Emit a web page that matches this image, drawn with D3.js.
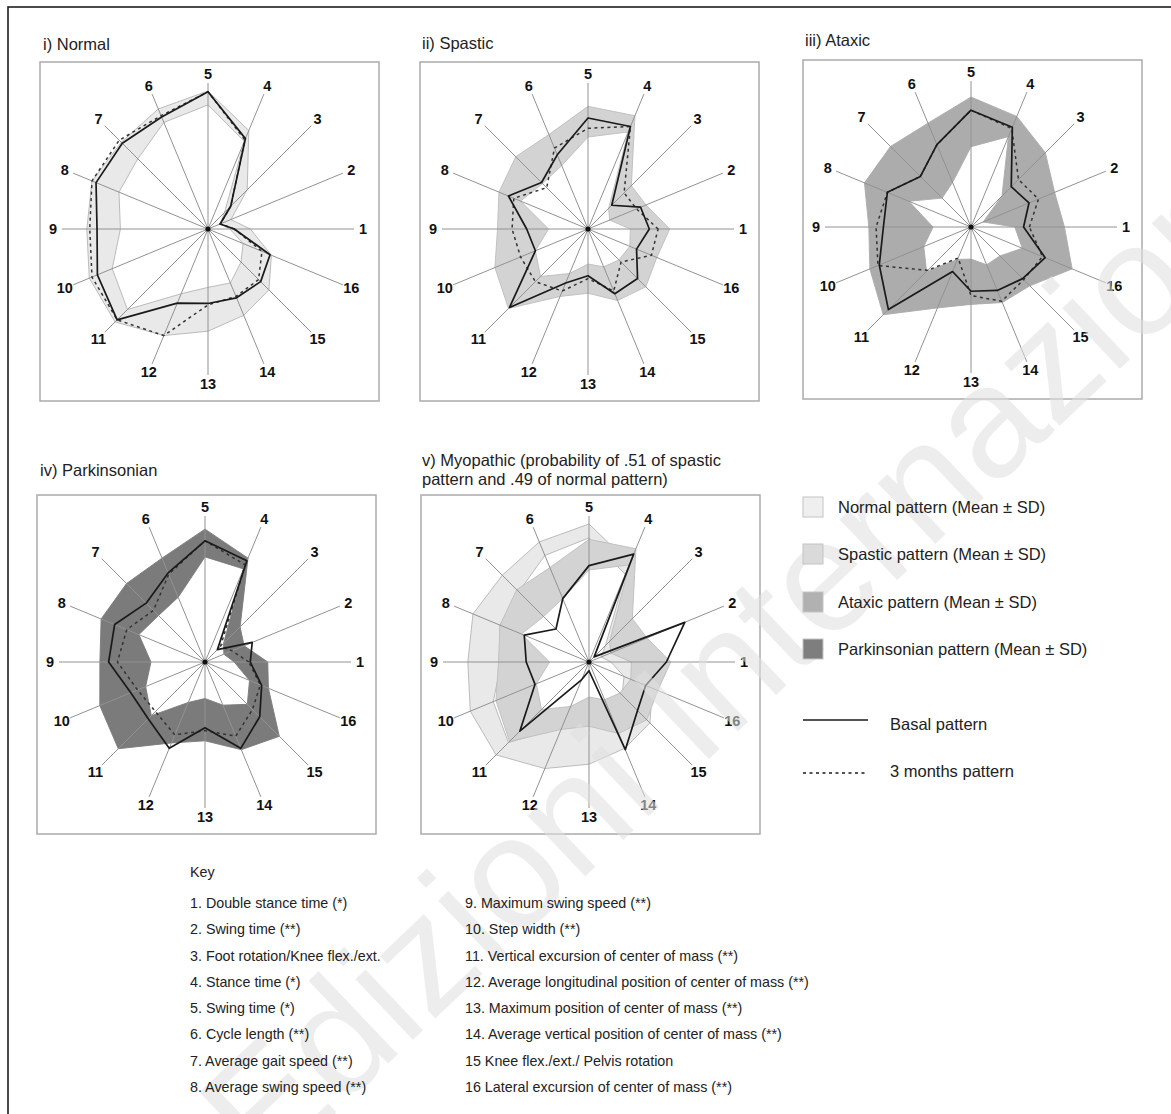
<!DOCTYPE html>
<html>
<head>
<meta charset="utf-8">
<script src="https://cdn.jsdelivr.net/npm/d3@7"></script>
<style>
  body { margin: 0; background: #fff; }
  svg { display: block; font-family: Arial, "Liberation Sans", Helvetica, sans-serif; }
</style>
</head>
<body>
<svg id="fig" width="1171" height="1114"></svg>
<script>
// ---- gait parameters (axes 1..16, counter-clockwise from the right) ----
const axisLabels = ["1","2","3","4","5","6","7","8","9","10","11","12","13","14","15","16"];

// Reference patterns: mean + SD (upper) and mean - SD (lower), normalised radius
const normalUpper   = [0.29,0.17,0.38,0.73,0.945,0.89,0.84,0.86,0.83,0.88,0.90,0.79,0.70,0.64,0.59,0.47];
const normalLower   = [0.15,0.09,0.16,0.65,0.85,0.79,0.68,0.66,0.60,0.71,0.78,0.48,0.40,0.40,0.32,0.26];
const spasticUpper  = [0.56,0.43,0.42,0.84,0.84,0.70,0.70,0.66,0.62,0.69,0.77,0.50,0.44,0.53,0.56,0.51];
const spasticLower  = [0.29,0.16,0.20,0.72,0.63,0.47,0.44,0.50,0.27,0.39,0.46,0.33,0.24,0.28,0.30,0.31];
const ataxicUpper   = [0.64,0.62,0.72,0.82,0.89,0.77,0.78,0.79,0.70,0.75,0.85,0.60,0.53,0.56,0.57,0.75];
const ataxicLower   = [0.30,0.09,0.30,0.67,0.55,0.33,0.28,0.46,0.26,0.35,0.43,0.24,0.22,0.28,0.28,0.38];
const parkUpper     = [0.43,0.29,0.34,0.77,0.91,0.77,0.76,0.77,0.72,0.78,0.84,0.60,0.54,0.65,0.72,0.47];
const parkLower     = [0.20,0.14,0.18,0.69,0.72,0.48,0.45,0.49,0.37,0.44,0.52,0.30,0.25,0.32,0.41,0.33];

// Patient patterns: basal and after 3 months
const normalBasal   = [0.18,0.09,0.22,0.67,0.94,0.83,0.83,0.83,0.76,0.82,0.88,0.55,0.51,0.51,0.51,0.46];
const normalMonths  = [0.18,0.09,0.22,0.66,0.94,0.84,0.86,0.86,0.81,0.86,0.88,0.79,0.52,0.50,0.49,0.40];
const spasticBasal  = [0.42,0.39,0.23,0.76,0.76,0.55,0.45,0.59,0.42,0.39,0.76,0.40,0.32,0.48,0.48,0.36];
const spasticMonths = [0.48,0.36,0.35,0.76,0.69,0.60,0.40,0.55,0.52,0.50,0.51,0.46,0.34,0.46,0.32,0.47];
const ataxicBasal   = [0.36,0.43,0.39,0.74,0.80,0.61,0.49,0.62,0.60,0.68,0.80,0.33,0.44,0.47,0.50,0.55];
const ataxicMonths  = [0.40,0.50,0.46,0.73,0.80,0.61,0.49,0.62,0.65,0.69,0.42,0.23,0.47,0.55,0.51,0.53];
const parkBasal     = [0.31,0.35,0.12,0.75,0.83,0.66,0.57,0.67,0.66,0.55,0.55,0.64,0.45,0.64,0.53,0.42];
const parkMonths    = [0.30,0.20,0.15,0.72,0.83,0.65,0.50,0.58,0.60,0.50,0.48,0.54,0.47,0.55,0.46,0.41];
const myoBasal      = [0.53,0.71,0.05,0.80,0.66,0.47,0.32,0.48,0.43,0.40,0.67,0.13,0.06,0.65,0.47,0.42];

// Text content
const legendBands = [
  "Normal pattern (Mean \u00B1 SD)",
  "Spastic pattern (Mean \u00B1 SD)",
  "Ataxic pattern (Mean \u00B1 SD)",
  "Parkinsonian pattern (Mean \u00B1 SD)"
];
const legendLines = ["Basal pattern", "3 months pattern"];
const keyItems = [
  "1. Double stance time (*)",
  "2. Swing time (**)",
  "3. Foot rotation/Knee flex./ext.",
  "4. Stance time (*)",
  "5. Swing time (*)",
  "6. Cycle length (**)",
  "7. Average gait speed (**)",
  "8. Average swing speed (**)",
  "9. Maximum swing speed (**)",
  "10. Step width (**)",
  "11. Vertical excursion of center of mass (**)",
  "12. Average longitudinal position of center of mass (**)",
  "13. Maximum position of center of mass (**)",
  "14. Average vertical position of center of mass (**)",
  "15 Knee flex./ext./ Pelvis rotation",
  "16 Lateral excursion of center of mass (**)"
];
const watermark = "Edizioni Internazionali";

// ---- styles ----
const bandStyle = {
  normal:  { fill: "#e9e9e9", stroke: "#b4b4b4" },
  spastic: { fill: "#d3d3d3", stroke: "#bdbdbd" },
  ataxic:  { fill: "#acacac", stroke: "#acacac" },
  park:    { fill: "#7b7b7b", stroke: "#7b7b7b" }
};

const panels = [
  { title: ["i) Normal"], tx: 43, ty: [50], x: 40, y: 62,
    bands: [["normal", normalUpper, normalLower]], basal: normalBasal, months: normalMonths },
  { title: ["ii) Spastic"], tx: 422, ty: [49], x: 420, y: 62,
    bands: [["spastic", spasticUpper, spasticLower]], basal: spasticBasal, months: spasticMonths },
  { title: ["iii) Ataxic"], tx: 805, ty: [46], x: 803, y: 60,
    bands: [["ataxic", ataxicUpper, ataxicLower]], basal: ataxicBasal, months: ataxicMonths },
  { title: ["iv) Parkinsonian"], tx: 40, ty: [476], x: 37, y: 495,
    bands: [["park", parkUpper, parkLower]], basal: parkBasal, months: parkMonths },
  { title: ["v) Myopathic (probability of .51 of spastic", "pattern and .49 of normal pattern)"],
    tx: 422, ty: [466, 485], x: 421, y: 495,
    bands: [["normal", normalUpper, normalLower], ["spastic", spasticUpper, spasticLower]],
    basal: myoBasal, months: null }
];

const svg = d3.select("#fig");
const BOX = 339, R = 146, LABEL_R = 155;
const rScale = d3.scaleLinear().domain([0, 1]).range([0, R]);
const theta = i => i * Math.PI / 8;               // axis angle, CCW from east
const radial = d3.lineRadial()
  .angle((d, i) => Math.PI / 2 - theta(i))
  .radius(d => rScale(d))
  .curve(d3.curveLinearClosed);

// outer frame of the figure
svg.append("rect").attr("x", 8).attr("y", 7).attr("width", 1300).attr("height", 1300)
  .attr("fill", "none").attr("stroke", "#1e1e1e").attr("stroke-width", 1.6);

const chartLayer = svg.append("g");
const markLayer = svg.append("g");   // publisher mark sits over the charts
const textLayer = svg.append("g");   // legend and key stay on top

panels.forEach(p => {
  const cx = p.x + 168, cy = p.y + 167;

  p.title.forEach((t, k) => {
    chartLayer.append("text").attr("x", p.tx).attr("y", p.ty[k])
      .attr("font-size", 16.5).attr("fill", "#222").text(t);
  });

  chartLayer.append("rect").attr("x", p.x).attr("y", p.y).attr("width", BOX).attr("height", BOX)
    .attr("fill", "#fff").attr("stroke", "#ababab").attr("stroke-width", 1.5);

  const g = chartLayer.append("g").attr("transform", `translate(${cx},${cy})`);

  // mean ± SD bands (ring between the two polygons)
  p.bands.forEach(([kind, up, lo]) => {
    g.append("path")
      .attr("d", radial(up) + radial(lo))
      .attr("fill-rule", "evenodd")
      .attr("fill", bandStyle[kind].fill)
      .attr("stroke", bandStyle[kind].stroke)
      .attr("stroke-width", 0.9);
  });

  // spokes
  g.selectAll("line.spoke").data(axisLabels).join("line")
    .attr("class", "spoke")
    .attr("x1", 0).attr("y1", 0)
    .attr("x2", (d, i) => R * Math.cos(theta(i)))
    .attr("y2", (d, i) => -R * Math.sin(theta(i)))
    .attr("stroke", "#929292").attr("stroke-width", 1);

  // patient lines
  if (p.months) {
    g.append("path").attr("d", radial(p.months))
      .attr("fill", "none").attr("stroke", "#333").attr("stroke-width", 1.5)
      .attr("stroke-dasharray", "3,3.5");
  }
  g.append("path").attr("d", radial(p.basal))
    .attr("fill", "none").attr("stroke", "#1a1a1a").attr("stroke-width", 1.7)
    .attr("stroke-linejoin", "round");

  g.append("circle").attr("r", 2.6).attr("fill", "#111");

  // axis numbers
  g.selectAll("text.lab").data(axisLabels).join("text")
    .attr("class", "lab")
    .attr("x", (d, i) => LABEL_R * Math.cos(theta(i)))
    .attr("y", (d, i) => -LABEL_R * Math.sin(theta(i)))
    .attr("text-anchor", "middle").attr("dominant-baseline", "central")
    .attr("font-size", 14.5).attr("font-weight", "bold").attr("fill", "#111")
    .text(d => d);
});

// ---- publisher watermark ----
markLayer.append("text")
  .attr("transform", "translate(265,1180) rotate(-43.5)")
  .attr("font-size", 158).attr("fill", "#e0e0e0").attr("opacity", 0.55)
  .attr("pointer-events", "none")
  .text(watermark);

// ---- legend ----
const legendY = [497, 544, 592, 639];
const legendKinds = ["normal", "spastic", "ataxic", "park"];
const swatchFill = { normal: "#efefef", spastic: "#dadada", ataxic: "#b1b1b1", park: "#7e7e7e" };
legendBands.forEach((t, k) => {
  textLayer.append("rect").attr("x", 803).attr("y", legendY[k]).attr("width", 20).attr("height", 20)
    .attr("fill", swatchFill[legendKinds[k]]).attr("stroke", "#c4c4c4").attr("stroke-width", 1);
  textLayer.append("text").attr("x", 838).attr("y", legendY[k] + 16)
    .attr("font-size", 16.5).attr("fill", "#222").text(t);
});
const lineY = [720, 773];
const lineTextY = [730, 777];
legendLines.forEach((t, k) => {
  textLayer.append("line").attr("x1", 803).attr("x2", 868).attr("y1", lineY[k]).attr("y2", lineY[k])
    .attr("stroke", "#1a1a1a").attr("stroke-width", k === 0 ? 1.6 : 1.4)
    .attr("stroke-dasharray", k === 0 ? null : "3,3.5");
  textLayer.append("text").attr("x", 890).attr("y", lineTextY[k])
    .attr("font-size", 16.5).attr("fill", "#222").text(t);
});

// ---- key ----
textLayer.append("text").attr("x", 190).attr("y", 877).attr("font-size", 14.3).attr("fill", "#222").text("Key");
keyItems.forEach((t, k) => {
  const col = k < 8 ? 0 : 1, row = k % 8;
  textLayer.append("text")
    .attr("x", col === 0 ? 190 : 465)
    .attr("y", 908 + row * 26.25)
    .attr("font-size", 14.3).attr("fill", "#222").text(t);
});
</script>
</body>
</html>
